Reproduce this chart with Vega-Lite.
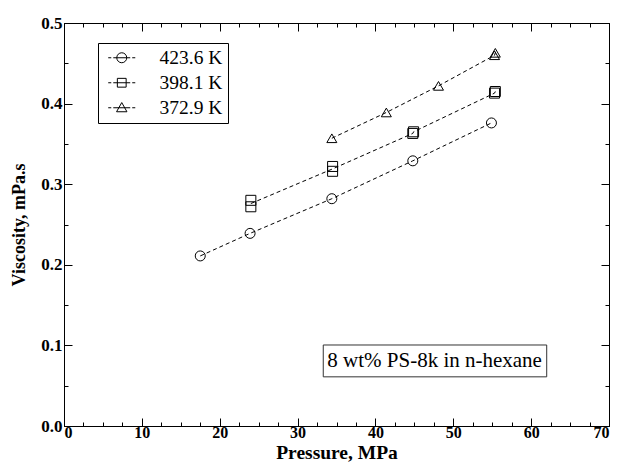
{
  "$schema": "https://vega.github.io/schema/vega-lite/v6.json",
  "width": 545,
  "height": 403,
  "autosize": {"type": "none"},
  "padding": {"left": 64, "top": 23, "right": 12, "bottom": 38},
  "background": "white",
  "config": {
    "view": {"stroke": "black", "strokeWidth": 1},
    "font": "Liberation Serif",
    "axis": {
      "domainColor": "black",
      "tickColor": "black",
      "tickWidth": 1,
      "labelColor": "black",
      "titleColor": "black",
      "labelFont": "Liberation Serif",
      "titleFont": "Liberation Serif",
      "labelFontWeight": "bold",
      "titleFontWeight": "bold",
      "labelFontSize": 17,
      "grid": false
    }
  },
  "datasets": {
    "pts": [
      {"T": "423.6 K", "P": 17.5, "V": 0.211},
      {"T": "423.6 K", "P": 23.9, "V": 0.239},
      {"T": "423.6 K", "P": 34.4, "V": 0.282},
      {"T": "423.6 K", "P": 44.8, "V": 0.329},
      {"T": "423.6 K", "P": 54.9, "V": 0.376},
      {"T": "398.1 K", "P": 24.0, "V": 0.280},
      {"T": "398.1 K", "P": 24.0, "V": 0.272},
      {"T": "398.1 K", "P": 34.5, "V": 0.322},
      {"T": "398.1 K", "P": 34.5, "V": 0.316},
      {"T": "398.1 K", "P": 44.8, "V": 0.363},
      {"T": "398.1 K", "P": 44.9, "V": 0.365},
      {"T": "398.1 K", "P": 55.3, "V": 0.413},
      {"T": "398.1 K", "P": 55.4, "V": 0.415},
      {"T": "372.9 K", "P": 34.4, "V": 0.357},
      {"T": "372.9 K", "P": 41.4, "V": 0.389},
      {"T": "372.9 K", "P": 48.1, "V": 0.422},
      {"T": "372.9 K", "P": 55.3, "V": 0.460},
      {"T": "372.9 K", "P": 55.4, "V": 0.463}
    ]
  },
  "data": {"name": "pts"},
  "resolve": {"axis": {"x": "independent", "y": "independent"}, "scale": {"shape": "independent"}},
  "layer": [
    {
      "mark": {"type": "line", "stroke": "black", "strokeWidth": 1, "strokeDash": [4, 3]},
      "encoding": {
        "x": {"field": "P", "type": "quantitative", "scale": {"domain": [0, 70], "nice": false},
          "axis": {"orient": "top", "values": [0,10,20,30,40,50,60,70], "labels": false, "title": null, "tickSize": -8}},
        "y": {"field": "V", "aggregate": "mean", "type": "quantitative", "scale": {"domain": [0, 0.5], "nice": false},
          "axis": {"orient": "right", "values": [0,0.1,0.2,0.3,0.4,0.5], "labels": false, "title": null, "tickSize": -8}},
        "detail": {"field": "T"}
      }
    },
    {
      "mark": {"type": "point", "filled": false, "stroke": "black", "strokeWidth": 1, "size": 100, "opacity": 1},
      "encoding": {
        "x": {"field": "P", "type": "quantitative",
          "axis": {"orient": "bottom", "values": [0,10,20,30,40,50,60,70], "format": "d",
            "labelFontWeight": "bold", "labelFontSize": 16,
            "title": "Pressure, MPa", "titleFontSize": 19.5, "titlePadding": 3, "labelPadding": 6, "tickSize": -8}},
        "y": {"field": "V", "type": "quantitative",
          "axis": {"orient": "left", "values": [0,0.1,0.2,0.3,0.4,0.5], "format": ".1f",
            "labelFontWeight": "bold",
            "title": "Viscosity, mPa.s", "titleFontSize": 18, "titlePadding": 12, "labelPadding": 10, "tickSize": -8}},
        "shape": {"field": "T", "type": "nominal",
          "scale": {"domain": ["423.6 K", "398.1 K", "372.9 K"], "range": ["circle", "square", "triangle-up"]},
          "legend": null
        }
      }
    },
    {
      "mark": {"type": "point", "filled": false, "stroke": "black", "strokeWidth": 1, "opacity": 0},
      "encoding": {
        "x": {"field": "P", "type": "quantitative",
          "axis": {"orient": "bottom", "values": [2.5,5,7.5,12.5,15,17.5,22.5,25,27.5,32.5,35,37.5,42.5,45,47.5,52.5,55,57.5,62.5,65,67.5], "labels": false, "domain": false, "title": null, "tickSize": -4}},
        "y": {"field": "V", "type": "quantitative",
          "axis": {"orient": "left", "values": [0.05,0.15,0.25,0.35,0.45], "labels": false, "domain": false, "title": null, "tickSize": -4}},
        "shape": {"field": "T", "type": "nominal",
          "scale": {"domain": ["423.6 K", "398.1 K", "372.9 K"], "range": [
            "M -1.69 0 L -1.31 0 M -1.06 0 L 1.06 0 M -0.625 0 A 0.625 0.625 0 1 0 0.625 0 A 0.625 0.625 0 1 0 -0.625 0 M 1.31 0 L 1.69 0",
            "M -1.69 0 L -1.31 0 M -1.06 0 L 1.06 0 M -0.55 -0.55 L 0.55 -0.55 L 0.55 0.55 L -0.55 0.55 Z M 1.31 0 L 1.69 0",
            "M -1.69 0 L -1.31 0 M -1.06 0 L 1.06 0 M 0 -0.65 L 0.65 0.5 L -0.65 0.5 Z M 1.31 0 L 1.69 0"]},
          "legend": {
            "title": null, "orient": "none", "legendX": 34, "legendY": 20,
            "strokeColor": "black", "padding": 5, "fillColor": "white",
            "labelFont": "Liberation Serif", "labelFontSize": 19.5, "labelColor": "black",
            "symbolSize": 256, "symbolStrokeColor": "black", "symbolFillColor": "transparent", "symbolStrokeWidth": 1, "symbolOpacity": 1,
            "symbolOffset": 9, "labelOffset": 28, "rowPadding": 4
          }
        }
      }
    },
    {
      "data": {"values": [{"note": "8 wt% PS-8k in n-hexane"}]},
      "mark": {"type": "rect", "fill": "white", "stroke": "#333333", "strokeWidth": 1},
      "encoding": {
        "x": {"datum": 33.3, "type": "quantitative",
          "axis": {"orient": "top", "values": [2.5,5,7.5,12.5,15,17.5,22.5,25,27.5,32.5,35,37.5,42.5,45,47.5,52.5,55,57.5,62.5,65,67.5], "labels": false, "domain": false, "title": null, "tickSize": -4}},
        "x2": {"datum": 62.0},
        "y": {"datum": 0.1005, "type": "quantitative",
          "axis": {"orient": "right", "values": [0.05,0.15,0.25,0.35,0.45], "labels": false, "domain": false, "title": null, "tickSize": -4}},
        "y2": {"datum": 0.061}
      }
    },
    {
      "data": {"values": [{"note": "8 wt% PS-8k in n-hexane"}]},
      "mark": {"type": "text", "font": "Liberation Serif", "fontSize": 21, "fontWeight": "normal", "color": "black", "align": "center", "baseline": "middle"},
      "encoding": {
        "x": {"datum": 47.6, "type": "quantitative", "axis": null},
        "y": {"datum": 0.0806, "type": "quantitative", "axis": null},
        "text": {"field": "note"}
      }
    }
  ]
}
